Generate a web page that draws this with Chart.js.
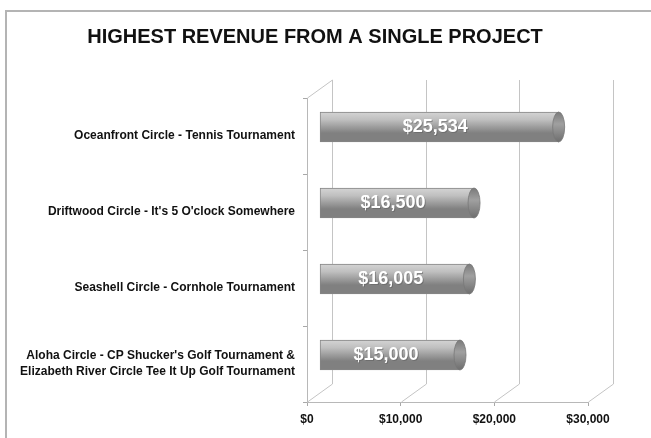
<!DOCTYPE html>
<html>
<head>
<meta charset="utf-8">
<script src="https://cdn.jsdelivr.net/npm/chart.js@4.4.1/dist/chart.umd.min.js"></script>
<style>
  html, body { margin: 0; padding: 0; background: #fff; }
  #wrap { position: relative; width: 651px; height: 438px; }
  #wrap::before { content: ""; position: absolute; left: 5px; top: 10px; right: 0; bottom: 0;
    border-left: 2px solid #b4b4b4; border-top: 2px solid #b4b4b4; pointer-events: none; }
</style>
</head>
<body>
<div id="wrap"><canvas id="chart" width="651" height="438"></canvas></div>
<script>
const projects = [
    'Oceanfront Circle - Tennis Tournament',
    "Driftwood Circle - It's 5 O'clock Somewhere",
    'Seashell Circle - Cornhole Tournament',
    ["Aloha Circle - CP Shucker's Golf Tournament &", 'Elizabeth River Circle Tee It Up Golf Tournament']
];
const revenue = [25534, 16500, 16005, 15000];
const revenueLabels = ['$25,534', '$16,500', '$16,005', '$15,000'];
const axisTicks = [0, 10000, 20000, 30000];

// depth of the fake 3d box, bars sit halfway in
const DEPTH_X = 25, DEPTH_Y = -18;
const FONT = '"Liberation Sans", Arial, sans-serif';

function money(v) {
    return '$' + v.toLocaleString('en-US');
}

function barFill(context) {
    const chart = context.chart;
    const y = chart.scales.y;
    if (!chart.chartArea || !y) return '#b0b0b0';
    const cy = y.getPixelForTick(context.dataIndex) + DEPTH_Y / 2;
    const g = chart.ctx.createLinearGradient(0, cy - 15, 0, cy + 15);
    g.addColorStop(0, '#939393');
    g.addColorStop(0.3, '#d4d4d4');
    g.addColorStop(0.55, '#c0c0c0');
    g.addColorStop(1, '#808080');
    return g;
}

const box3d = {
    id: 'box3d',
    beforeDatasetsDraw(chart) {
        const { ctx, chartArea: a, scales: { x } } = chart;
        ctx.save();
        ctx.strokeStyle = '#c4c4c4';
        ctx.lineWidth = 1;
        axisTicks.forEach(t => {
            const px = Math.round(x.getPixelForValue(t)) + 0.5;
            // back wall line
            ctx.beginPath();
            ctx.moveTo(px + DEPTH_X, a.top + DEPTH_Y);
            ctx.lineTo(px + DEPTH_X, a.bottom + DEPTH_Y);
            ctx.stroke();
            // floor line
            ctx.beginPath();
            ctx.moveTo(px, a.bottom);
            ctx.lineTo(px + DEPTH_X, a.bottom + DEPTH_Y);
            ctx.stroke();
        });
        // top edge of the left wall
        ctx.beginPath();
        ctx.moveTo(a.left + 0.5, a.top);
        ctx.lineTo(a.left + DEPTH_X + 0.5, a.top + DEPTH_Y);
        ctx.stroke();
        ctx.restore();

        ctx.save();
        ctx.translate(DEPTH_X / 2, DEPTH_Y / 2);
    },
    afterDatasetsDraw(chart) {
        const ctx = chart.ctx;
        const meta = chart.getDatasetMeta(0);
        meta.data.forEach((bar, i) => {
            const h = bar.height;
            // end cap of the cylinder
            const g = ctx.createLinearGradient(0, bar.y - h / 2, 0, bar.y + h / 2);
            g.addColorStop(0, '#7a7a7a');
            g.addColorStop(0.4, '#a0a0a0');
            g.addColorStop(1, '#6e6e6e');
            ctx.beginPath();
            ctx.ellipse(bar.x, bar.y, 6, h / 2, 0, 0, Math.PI * 2);
            ctx.fillStyle = g;
            ctx.fill();
            ctx.strokeStyle = '#777';
            ctx.lineWidth = 0.8;
            ctx.stroke();

            // value label
            ctx.font = 'bold 18px ' + FONT;
            ctx.textAlign = 'center';
            ctx.textBaseline = 'middle';
            ctx.fillStyle = 'rgba(90,90,90,0.5)';
            const cx = (bar.base + bar.x) / 2 - 4;
            ctx.fillText(revenueLabels[i], cx + 1, bar.y + 1);
            ctx.fillStyle = '#ffffff';
            ctx.fillText(revenueLabels[i], cx, bar.y);
        });
        ctx.restore();
    }
};

new Chart(document.getElementById('chart'), {
    type: 'bar',
    data: {
        labels: projects,
        datasets: [{
            label: 'Revenue',
            data: revenue,
            backgroundColor: barFill,
            borderColor: '#858585',
            borderWidth: 1,
            borderSkipped: false,
            barThickness: 30
        }]
    },
    options: {
        indexAxis: 'y',
        responsive: false,
        animation: false,
        layout: { padding: { left: 0, right: 21, top: 0, bottom: 0 } },
        plugins: {
            legend: { display: false },
            tooltip: { enabled: false },
            title: {
                display: true,
                text: 'HIGHEST REVENUE FROM A SINGLE PROJECT',
                color: '#111',
                font: { family: FONT, size: 20, weight: 'bold' },
                padding: { top: 25, bottom: 49 }
            }
        },
        scales: {
            x: {
                min: 0,
                max: 30000,
                afterBuildTicks: s => { s.ticks = axisTicks.map(v => ({ value: v })); },
                afterFit: s => { s.height = 36; },
                grid: { drawOnChartArea: false, drawTicks: true, tickLength: 4, color: '#a8a8a8' },
                border: { display: true, color: '#b8b8b8' },
                ticks: {
                    padding: 6,
                    color: '#111',
                    callback: v => money(v),
                    font: { family: FONT, size: 12, weight: 'bold' }
                }
            },
            y: {
                afterFit: s => { s.width = 307; },
                grid: { drawOnChartArea: false, drawTicks: true, tickLength: 4, color: '#a8a8a8' },
                border: { display: true, color: '#b8b8b8' },
                ticks: {
                    padding: 8,
                    color: '#111',
                    font: { family: FONT, size: 12, weight: 'bold', lineHeight: 1.35 }
                }
            },
            depth: {
                // empty right-hand axis that keeps room for the back wall
                type: 'category',
                axis: 'y',
                position: 'right',
                afterFit: s => { s.width = 42; },
                grid: { display: false },
                border: { display: false },
                ticks: { display: false }
            }
        }
    },
    plugins: [box3d]
});
</script>
</body>
</html>
